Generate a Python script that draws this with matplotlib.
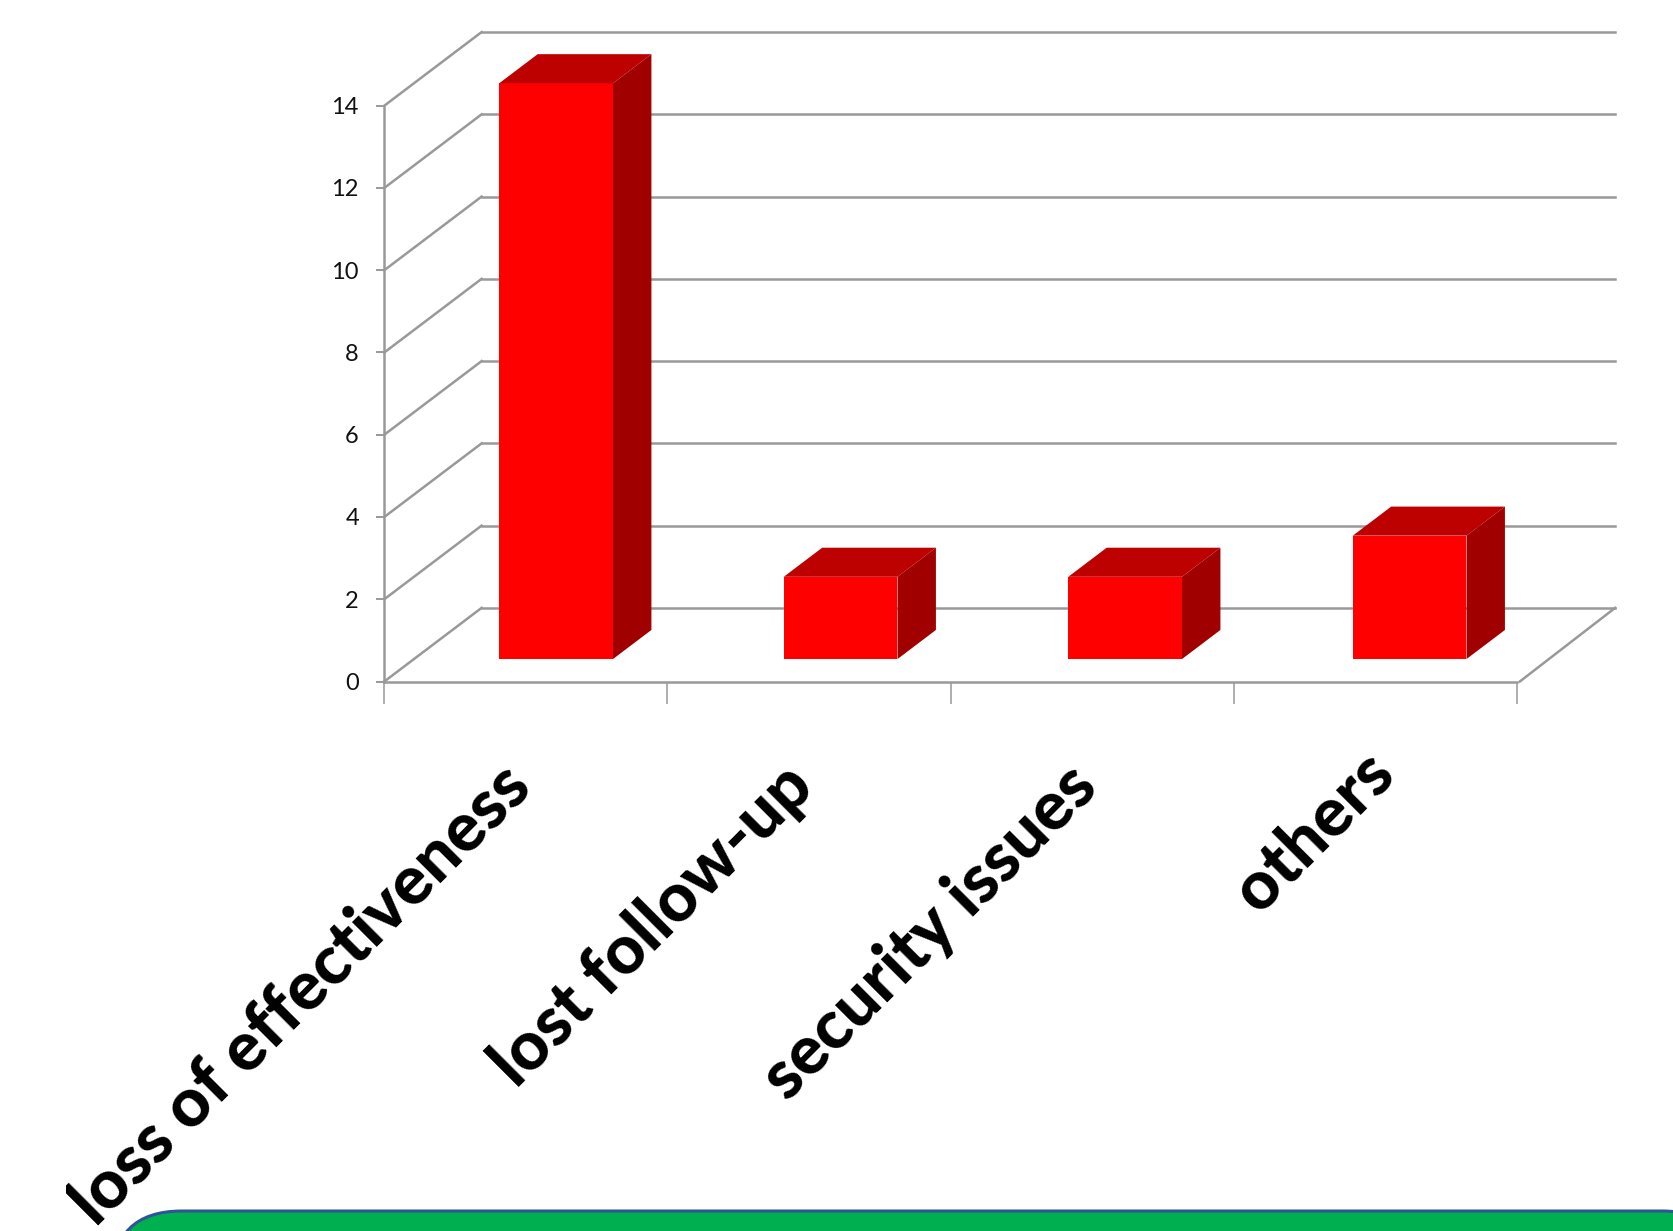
"""Oblique 3D-look bar chart of withdrawal reasons."""

import matplotlib
matplotlib.use('Agg')
import matplotlib.pyplot as plt
from matplotlib.patches import FancyBboxPatch, Rectangle
from matplotlib.transforms import IdentityTransform, ScaledTranslation

categories = ['loss of effectiveness', 'lost follow-up', 'security issues', 'others']
values = [14, 2, 2, 3]
yticks = [0, 2, 4, 6, 8, 10, 12, 14]

W, H = 1673, 1231
GREY = '#999999'

# oblique depth of the wall, in data units
wall_dx, wall_dy = 0.3436, 1.79
# the bar sits between these fractions of the depth
bar_front, bar_back = 0.305, 0.70
bar_w = 0.4015
# bars are spaced a touch wider than the ticks in the source
bar_step = 1.0047


def main():
    plt.rcParams['font.family'] = ['Lato', 'DejaVu Sans']
    fig = plt.figure(figsize=(W / 100, H / 100), dpi=100, facecolor='white')
    ax = fig.add_axes([384.3 / W, 1 - 681.5 / H, (1517 - 384.3) / W, (681.5 - 105.7) / H])
    ax.set_xlim(0, 4)
    ax.set_ylim(0, 14)
    ax.patch.set_visible(False)

    # back wall, side wall and floor
    for v in yticks:
        ax.plot([wall_dx, 4.003 + wall_dx], [v + wall_dy, v + wall_dy],
                color=GREY, lw=1.8, clip_on=False, zorder=1)
        ax.plot([0, wall_dx], [v, v + wall_dy], color=GREY, lw=1.8, clip_on=False, zorder=1)
    ax.plot([4.01, 4.003 + wall_dx], [0, wall_dy], color=GREY, lw=1.8, clip_on=False, zorder=1)

    # bars: front face, then top and side in depth
    fx, fy = bar_front * wall_dx, bar_front * wall_dy
    ddx, ddy = (bar_back - bar_front) * wall_dx, (bar_back - bar_front) * wall_dy
    for i, v in enumerate(values):
        x0 = i * bar_step + 0.502 + fx - bar_w / 2
        x1 = x0 + bar_w
        y0, y1 = fy, fy + v
        ax.bar(x0, v, width=bar_w, bottom=y0, align='edge', color='#ff0000',
               clip_on=False, zorder=3)
        ax.fill([x0, x1, x1 + ddx, x0 + ddx], [y1, y1, y1 + ddy, y1 + ddy],
                color='#bd0000', lw=0, clip_on=False, zorder=3)
        ax.fill([x1, x1 + ddx, x1 + ddx, x1], [y0, y0 + ddy, y1 + ddy, y1],
                color='#a00000', lw=0, clip_on=False, zorder=3)

    for s in ['top', 'right']:
        ax.spines[s].set_visible(False)
    for s in ['left', 'bottom']:
        ax.spines[s].set_color(GREY)
        ax.spines[s].set_linewidth(1.8)
        ax.spines[s].set_zorder(2)

    ax.set_yticks(yticks)
    ax.tick_params(axis='y', length=5.8, width=1.4, color=GREY, pad=12.5, labelsize=17,
                   labelcolor='#111111')
    ax.set_xticks(range(5))
    ax.set_xticklabels([])
    ax.tick_params(axis='x', which='major', length=16, width=1.1, color=GREY)
    ax.set_xticks([i + 0.4 for i in range(4)], minor=True)
    ax.set_xticklabels(categories, minor=True, rotation=45, ha='right', va='top',
                       rotation_mode='anchor', fontsize=49, fontweight=900, color='black')
    ax.tick_params(axis='x', which='minor', length=0, pad=52)

    # the short label sits further along its slant in the source
    lab = ax.get_xticklabels(minor=True)[3]
    lab.set_transform(lab.get_transform() + ScaledTranslation(9.7 / 72, 10 / 72, fig.dpi_scale_trans))

    # text is cut at the left edge of the source crop
    fig.add_artist(Rectangle((0, 0), 66, H, transform=IdentityTransform(),
                             facecolor='white', edgecolor='none', zorder=5))
    # box at the bottom, mostly outside the picture
    fig.add_artist(FancyBboxPatch((112, -100), 1620, 100 + H - 1211,
                                  boxstyle='round,pad=0,rounding_size=70',
                                  transform=IdentityTransform(), facecolor='#00b050',
                                  edgecolor='#2f5597', linewidth=2.2, zorder=6))

    fig.savefig('out.png', dpi=100)


if __name__ == "__main__":
    main()
